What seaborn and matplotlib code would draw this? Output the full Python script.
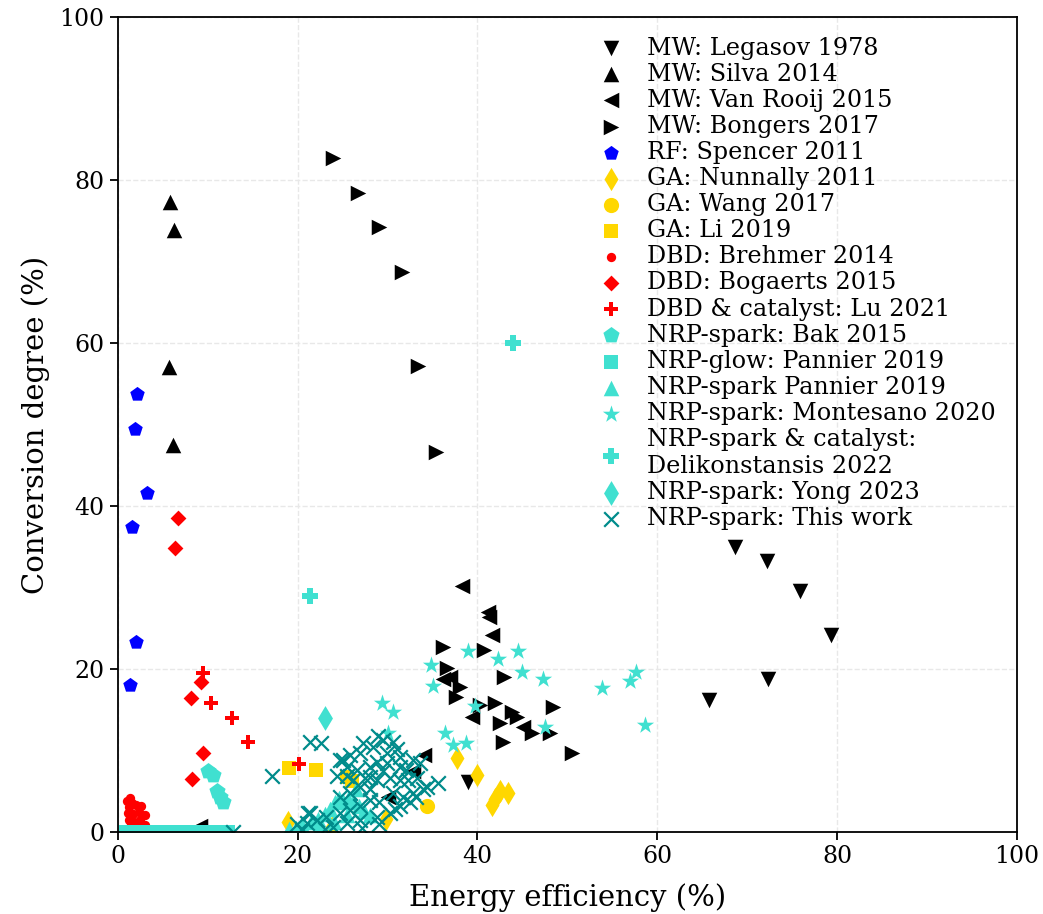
import pandas as pd
import matplotlib.pyplot as plt
import seaborn as sns

sns.set_style("ticks")
plt.rcParams['font.family'] = ['DejaVu Serif']
plt.rcParams['text.color'] = 'black'
plt.rcParams['axes.labelcolor'] = 'black'
plt.rcParams['xtick.color'] = 'black'
plt.rcParams['ytick.color'] = 'black'
plt.rcParams['axes.edgecolor'] = 'black'

# Energy efficiency (%) and conversion degree (%) per study
legasov_x = [68.6, 72.2, 75.9, 79.3, 72.3, 65.7, 38.9]
legasov_y = [35.0, 33.3, 29.6, 24.2, 18.7, 16.2, 6.1]

silva_x = [5.8, 6.2, 5.7, 6.1]
silva_y = [77.3, 73.9, 57.1, 47.5]

vanrooij_x = [38.3, 41.2, 41.3, 41.6, 36.2, 36.9, 39.4, 45.1, 34.1, 32.8, 30.0, 9.1]
vanrooij_y = [30.2, 27.0, 26.4, 24.2, 18.7, 19.0, 14.1, 12.9, 9.4, 7.4, 4.3, 0.7]

bongers_x = [23.9, 26.7, 29.0, 31.6, 33.4, 35.4, 36.2, 40.7, 36.6, 43.0, 38.0, 37.6,
             40.3, 41.9, 43.8, 44.4, 42.5, 46.1, 48.1, 42.8, 48.4, 50.5]
bongers_y = [82.7, 78.4, 74.2, 68.7, 57.2, 46.6, 22.7, 22.3, 20.1, 19.0, 17.8, 16.6,
             15.6, 15.8, 14.7, 14.1, 13.4, 12.1, 12.1, 11.0, 15.3, 9.7]

spencer_x = [2.1, 1.9, 3.2, 1.6, 2.0, 1.4]
spencer_y = [53.7, 49.4, 41.6, 37.4, 23.3, 18.0]

nunnally_x = [18.9, 23.8, 29.8, 37.7, 40.0, 41.6, 42.0, 42.5, 43.4]
nunnally_y = [1.2, 0.6, 1.6, 9.1, 7.0, 3.3, 4.0, 5.0, 4.8]

wang_x = [34.4]
wang_y = [3.1]

li_x = [19.0, 22.0, 25.5, 26.0]
li_y = [7.8, 7.6, 6.7, 6.2]

brehmer_x = [1.0, 1.3, 1.6, 1.2, 2.0, 2.6, 1.1, 1.7, 2.4, 3.0, 1.2, 1.8, 2.5, 1.5, 2.2, 3.0]
brehmer_y = [3.8, 4.1, 3.5, 3.0, 3.3, 3.1, 2.3, 2.2, 2.4, 2.0, 1.5, 1.2, 1.4, 0.8, 0.6, 0.8]

bogaerts_x = [6.7, 6.3, 8.1, 9.3, 8.3, 9.5]
bogaerts_y = [38.5, 34.8, 16.4, 18.4, 6.5, 9.7]

lu_x = [9.5, 10.4, 12.7, 14.5, 20.2]
lu_y = [19.5, 15.8, 14.0, 11.0, 8.3]

bak_x = [10.0, 10.6, 11.0, 11.4, 11.7]
bak_y = [7.5, 7.0, 5.0, 4.3, 3.7]

glow_x = [0.9, 1.4, 2.0, 2.6, 3.1, 3.7, 4.2, 4.8, 5.3, 5.9, 6.4, 7.0, 7.5,
          8.1, 8.6, 9.2, 9.7, 10.3, 10.8, 11.4, 11.9, 12.3]
glow_y = [0.0, 0.0, 0.0, 0.0, 0.0, 0.0, 0.0, 0.0, 0.0, 0.0, 0.0, 0.0, 0.0,
          0.0, 0.0, 0.0, 0.0, 0.0, 0.0, 0.0, 0.0, 0.0]

spark_x = [19.0, 19.8, 20.5, 21.5, 22.3, 23.0, 23.6, 24.2, 24.6, 25.0, 25.6, 26.2,
           26.8, 27.4, 28.0, 22.5, 24.0, 25.5, 26.5]
spark_y = [0.3, 0.5, 0.8, 1.2, 1.6, 2.2, 2.8, 3.6, 4.1, 3.8, 4.0, 3.7,
           3.2, 2.6, 2.0, 0.6, 1.2, 2.0, 5.3]

montesano_x = [29.4, 30.6, 34.8, 35.0, 38.9, 44.5, 42.3, 44.9, 47.3, 53.8, 57.0, 57.6,
               39.7, 47.5, 58.6, 36.4, 37.3, 38.7, 30.0]
montesano_y = [15.8, 14.7, 20.5, 17.9, 22.2, 22.2, 21.2, 19.6, 18.8, 17.7, 18.5, 19.6,
               15.5, 12.9, 13.1, 12.1, 10.7, 10.9, 12.1]

delik_x = [43.9, 21.4]
delik_y = [60.0, 29.0]

yong_x = [23.0]
yong_y = [14.0]

thiswork_x = [24.7, 25.8, 26.9, 28.9, 29.5, 30.6, 31.0, 28.0, 26.6, 25.5, 28.8, 29.9,
              31.4, 32.1, 32.8, 33.6, 26.9, 28.0, 28.8, 30.3, 31.4, 32.3, 33.3, 35.6,
              28.0, 29.1, 26.9, 25.8, 24.7, 23.2, 22.1, 21.0, 21.1, 19.9, 24.7, 25.8,
              30.6, 31.7, 32.8, 33.9, 31.4, 32.5, 30.3, 28.8, 26.9, 25.5, 23.9, 28.0,
              29.5, 27.5, 26.2, 25.0, 28.4, 29.9, 31.4, 25.5, 27.3, 24.4, 34.4, 33.2,
              17.1, 21.4, 22.6, 21.4, 12.8, 30.8, 29.0, 27.2, 23.0, 20.5]
thiswork_y = [8.8, 9.4, 9.7, 11.7, 11.3, 11.0, 10.1, 8.0, 7.6, 8.0, 8.6, 8.5,
              8.0, 7.6, 8.8, 8.5, 5.5, 5.2, 6.4, 6.6, 6.4, 6.4, 6.6, 6.0,
              3.9, 3.6, 3.1, 2.7, 2.3, 1.8, 1.5, 1.1, 2.3, 0.9, 4.3, 4.8,
              4.8, 4.3, 4.8, 5.2, 3.1, 3.6, 2.3, 1.8, 1.5, 1.1, 0.6, 6.7,
              7.4, 6.6, 6.4, 8.8, 10.4, 9.7, 9.2, 6.8, 10.9, 6.8, 5.5, 4.3,
              6.8, 11.0, 10.9, 2.3, 0.0, 2.8, 0.9, 0.5, 0.3, 0.2]

series = [
    ("MW: Legasov 1978", legasov_x, legasov_y, "v", "black", 125),
    ("MW: Silva 2014", silva_x, silva_y, "^", "black", 125),
    ("MW: Van Rooij 2015", vanrooij_x, vanrooij_y, "<", "black", 125),
    ("MW: Bongers 2017", bongers_x, bongers_y, ">", "black", 125),
    ("RF: Spencer 2011", spencer_x, spencer_y, "p", "blue", 120),
    ("GA: Nunnally 2011", nunnally_x, nunnally_y, "d", "gold", 140),
    ("GA: Wang 2017", wang_x, wang_y, "o", "gold", 120),
    ("GA: Li 2019", li_x, li_y, "s", "gold", 90),
    ("DBD: Brehmer 2014", brehmer_x, brehmer_y, "o", "red", 45),
    ("DBD: Bogaerts 2015", bogaerts_x, bogaerts_y, "D", "red", 65),
    ("DBD & catalyst: Lu 2021", lu_x, lu_y, "P", "red", 100),
    ("NRP-spark: Bak 2015", bak_x, bak_y, "p", "turquoise", 150),
    ("NRP-glow: Pannier 2019", glow_x, glow_y, "s", "turquoise", 90),
    ("NRP-spark Pannier 2019", spark_x, spark_y, "^", "turquoise", 125),
    ("NRP-spark: Montesano 2020", montesano_x, montesano_y, "*", "turquoise", 170),
    ("NRP-spark & catalyst:\nDelikonstansis 2022", delik_x, delik_y, "P", "turquoise", 140),
    ("NRP-spark: Yong 2023", yong_x, yong_y, "d", "turquoise", 160),
    ("NRP-spark: This work", thiswork_x, thiswork_y, "x", "darkcyan", 110),
]

fig, ax = plt.subplots(figsize=(10.43, 9.14), dpi=100)

for label, xs, ys, marker, color, size in series:
    df = pd.DataFrame({"eff": xs, "conv": ys})
    if marker == "x":
        sns.scatterplot(data=df, x="eff", y="conv", marker=marker, color=color,
                        s=size, linewidth=1.6, label=label, ax=ax)
    else:
        sns.scatterplot(data=df, x="eff", y="conv", marker=marker, color=color,
                        s=size, linewidth=0, label=label, ax=ax)

ax.set_xlim(0, 100)
ax.set_ylim(0, 100)
ax.set_xticks([0, 20, 40, 60, 80, 100])
ax.set_yticks([0, 20, 40, 60, 80, 100])
ax.grid(True, linestyle="--", color="#e8e8e8", linewidth=1)
ax.set_axisbelow(True)
ax.tick_params(labelsize=17, length=6, width=1.3)
for sp in ax.spines.values():
    sp.set_linewidth(1.3)
ax.set_xlabel("Energy efficiency (%)", fontsize=21, labelpad=11)
ax.set_ylabel("Conversion degree (%)", fontsize=21, labelpad=7)

ax.legend(loc="upper right", bbox_to_anchor=(0.995, 0.997), frameon=False,
          fontsize=17.2, labelspacing=0.13, handletextpad=0.5, borderpad=0.2)

plt.subplots_adjust(left=0.113, right=0.975, top=0.981, bottom=0.09)
plt.savefig("out.png", dpi=100)
